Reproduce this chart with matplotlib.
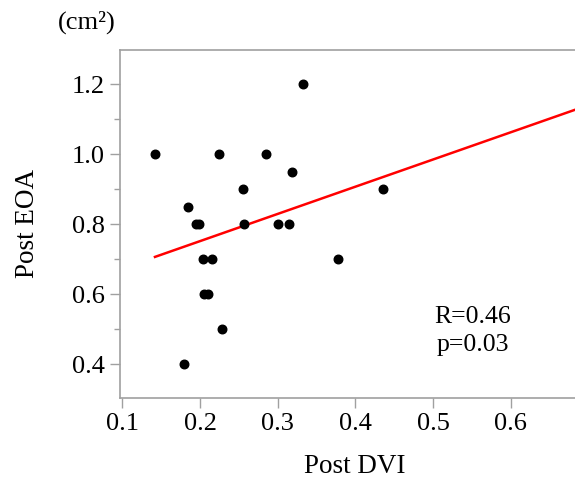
import matplotlib
matplotlib.use("Agg")
from matplotlib import pyplot as plt
from matplotlib.ticker import MultipleLocator

# data
post_dvi = [0.142, 0.332, 0.225, 0.285, 0.318, 0.255, 0.185, 0.195, 0.199,
            0.256, 0.300, 0.315, 0.204, 0.215, 0.377, 0.205, 0.210,
            0.228, 0.179, 0.435]
post_eoa = [1.0, 1.2, 1.0, 1.0, 0.95, 0.9, 0.85, 0.8, 0.8,
            0.8, 0.8, 0.8, 0.7, 0.7, 0.7, 0.6, 0.6,
            0.5, 0.4, 0.9]

# regression line
slope = 0.778
intercept = 0.596
line_x = [min(post_dvi), 0.70]

x_ticks = [0.1, 0.2, 0.3, 0.4, 0.5, 0.6]
y_ticks = [0.4, 0.6, 0.8, 1.0, 1.2]

plt.rcParams['font.family'] = ['Liberation Serif', 'DejaVu Serif']

fig = plt.figure(figsize=(5.75, 4.82), dpi=100)
ax = fig.add_axes([0.2087, 0.1749, 0.8148, 0.7214])

ax.scatter(post_dvi, post_eoa, s=38, color='black', zorder=3)
ax.plot(line_x, [slope * x + intercept for x in line_x], color='red', linewidth=1.8)

ax.set_xlim(0.097, 0.70)
ax.set_ylim(0.304, 1.298)
ax.set_xticks(x_ticks)
ax.set_xticklabels(["%.1f" % v for v in x_ticks])
ax.set_yticks(y_ticks)
ax.set_yticklabels(["%.1f" % v for v in y_ticks])
ax.yaxis.set_minor_locator(MultipleLocator(0.1))

gray = '#a0a0a0'
for sp in ax.spines.values():
    sp.set_color(gray)
    sp.set_linewidth(1.2)
ax.tick_params(axis='both', which='major', direction='out', length=7, width=1.0,
               color=gray, labelsize=19, pad=4)
ax.tick_params(axis='y', which='minor', direction='out', length=4, width=1.0, color=gray)

ax.set_xlabel("Post DVI", fontsize=19.5, labelpad=14)
ax.set_ylabel("Post EOA", fontsize=19.5, labelpad=23)
fig.text(0.151, 0.954, "(cm²)", fontsize=19, ha='center', va='center')

ax.text(0.551, 0.494, "R=0.46\np=0.03", fontsize=18.5,
        ha='center', va='center', linespacing=1.38)

fig.savefig("out.png", dpi=100)
